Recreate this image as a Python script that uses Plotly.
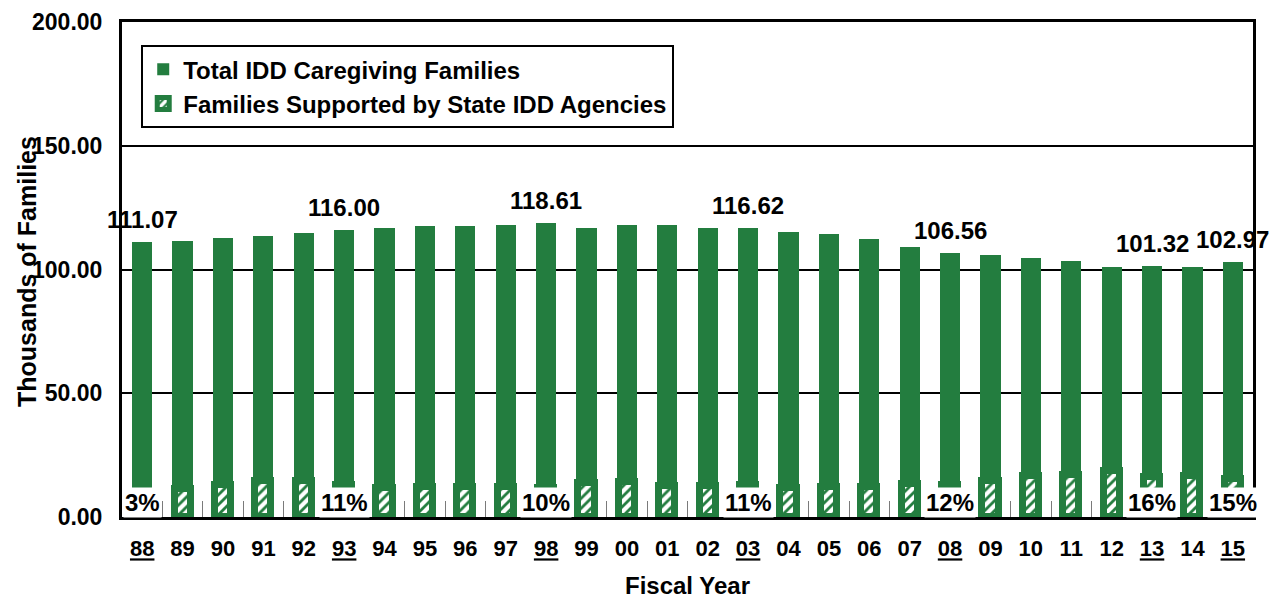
import plotly.graph_objects as go

years = ["88", "89", "90", "91", "92", "93", "94", "95", "96", "97", "98", "99", "00", "01",
         "02", "03", "04", "05", "06", "07", "08", "09", "10", "11", "12", "13", "14", "15"]
total_families = [111.07, 111.6, 112.7, 113.6, 114.6, 116.00, 116.6, 117.4, 117.7, 117.9, 118.61, 116.7,
                  118.1, 117.8, 116.8, 116.62, 115.2, 114.3, 112.5, 108.9, 106.56, 105.7, 104.6, 103.4,
                  101.0, 101.32, 100.9, 102.97]
supported_families = [3.3, 11.3, 13.1, 14.4, 14.7, 12.8, 11.7, 12.0, 12.2, 12.2, 11.9, 13.7,
                      14.0, 12.6, 12.6, 12.8, 11.7, 12.2, 12.2, 13.3, 12.8, 14.7, 16.7, 17.0,
                      18.7, 16.2, 16.7, 15.4]
labeled_years = ["88", "93", "98", "03", "08", "13", "15"]
labeled_pct = ["3%", "11%", "10%", "11%", "12%", "16%", "15%"]

GREEN = "#237d3f"
FONT = "Arial, Liberation Sans, sans-serif"

fig = go.Figure()
fig.add_trace(go.Bar(
    x=years, y=total_families, name="Total IDD Caregiving Families",
    width=0.5, marker=dict(color=GREEN, line=dict(width=0)),
))
fig.add_trace(go.Bar(
    x=years, y=supported_families, name="Families Supported by State IDD Agencies",
    width=0.4,
    marker=dict(color=GREEN, line=dict(color=GREEN, width=7),
                pattern=dict(shape="/", bgcolor=GREEN, fgcolor="white", fgopacity=1,
                             size=7, solidity=0.6)),
))

annotations = []
for yr, pct in zip(labeled_years, labeled_pct):
    i = years.index(yr)
    annotations.append(dict(x=i, y=total_families[i], text=f"{total_families[i]:.2f}",
                            showarrow=False, yanchor="bottom", yshift=7,
                            font=dict(size=24, color="black", family=FONT, weight="bold")))
    annotations.append(dict(x=i, y=0, text=pct, showarrow=False, yanchor="bottom", yshift=-1,
                            bgcolor="white", borderpad=1,
                            font=dict(size=24, color="black", family=FONT, weight="bold")))

annotations.append(dict(xref="paper", yref="paper", x=-0.084, y=0.497, text="Thousands of Families",
                        textangle=-90, showarrow=False, xanchor="center", yanchor="middle",
                        font=dict(size=25, color="black", family=FONT, weight="bold")))

ticktext = [f"<u>{y}</u>" if y in labeled_years else y for y in years]

fig.update_layout(
    width=1277, height=599,
    barmode="overlay",
    plot_bgcolor="white", paper_bgcolor="white",
    margin=dict(l=122, r=24, t=22, b=82, autoexpand=False),
    font=dict(family=FONT, color="black", size=20, weight="bold"),
    showlegend=True,
    legend=dict(x=0.017, y=0.953, xanchor="left", yanchor="top",
                bgcolor="white", bordercolor="black", borderwidth=2,
                font=dict(size=24, family=FONT, weight="bold"),
                itemwidth=30, tracegroupgap=0),
    annotations=annotations,
    bargap=0,
)
fig.update_xaxes(
    type="category", tickmode="array", tickvals=years, ticktext=ticktext,
    range=[-0.5, len(years) - 0.5], automargin=False,
    tickfont=dict(size=22, family=FONT, weight="bold"),
    showline=True, linecolor="black", linewidth=3, mirror=True,
    ticks="inside", tickson="boundaries", ticklen=16, tickcolor="#7a7a7a", tickwidth=1,
    ticklabelstandoff=10,
    title=dict(text="Fiscal Year", font=dict(size=24, family=FONT, weight="bold"), standoff=23),
    showgrid=False,
)
fig.update_yaxes(
    range=[0, 200], dtick=50, tickformat=".2f", automargin=False,
    tickfont=dict(size=23, family=FONT, weight="bold"),
    showline=True, linecolor="black", linewidth=3, mirror=True,
    showgrid=True, gridcolor="black", gridwidth=2, zeroline=False,
    ticks="", ticklabelstandoff=12,
)

fig.write_html("out.html", config={"displayModeBar": False},
               post_script="document.body.style.margin='0px';")
